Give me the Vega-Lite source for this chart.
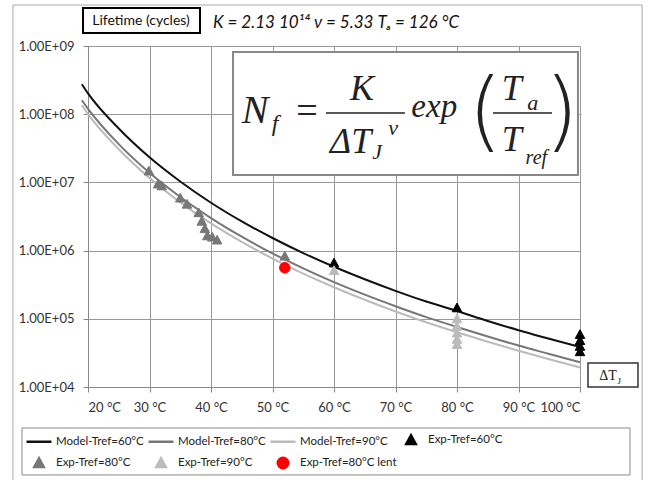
{
  "$schema": "https://vega.github.io/schema/vega-lite/v6.json",
  "width": 492,
  "height": 341,
  "autosize": {"type": "none"},
  "padding": {"left": 88, "top": 46, "right": 70, "bottom": 93},
  "background": "white",
  "config": {
    "view": {"stroke": null},
    "font": "Lato",
    "legend": {
      "orient": "none", "legendX": -63, "legendY": 380, "direction": "horizontal", "columns": 4,
      "symbolSize": 625, "symbolStrokeWidth": 2.5, "labelOffset": 3, "columnPadding": -1, "rowPadding": -2,
      "padding": 0, "labelFont": "Lato", "labelFontSize": 11.5, "labelColor": "#222", "labelLimit": 300
    }
  },
  "datasets": {
    "models": [
      {"series": "Model-Tref=60°C", "dt": 19, "nf": 275000000},
      {"series": "Model-Tref=60°C", "dt": 20, "nf": 202000000},
      {"series": "Model-Tref=60°C", "dt": 25, "nf": 61600000},
      {"series": "Model-Tref=60°C", "dt": 30, "nf": 23300000},
      {"series": "Model-Tref=60°C", "dt": 35, "nf": 10300000},
      {"series": "Model-Tref=60°C", "dt": 40, "nf": 5030000},
      {"series": "Model-Tref=60°C", "dt": 45, "nf": 2680000},
      {"series": "Model-Tref=60°C", "dt": 50, "nf": 1530000},
      {"series": "Model-Tref=60°C", "dt": 55, "nf": 920000},
      {"series": "Model-Tref=60°C", "dt": 60, "nf": 580000},
      {"series": "Model-Tref=60°C", "dt": 65, "nf": 380000},
      {"series": "Model-Tref=60°C", "dt": 70, "nf": 257000},
      {"series": "Model-Tref=60°C", "dt": 75, "nf": 179000},
      {"series": "Model-Tref=60°C", "dt": 80, "nf": 130000},
      {"series": "Model-Tref=60°C", "dt": 85, "nf": 93000},
      {"series": "Model-Tref=60°C", "dt": 90, "nf": 68000},
      {"series": "Model-Tref=60°C", "dt": 95, "nf": 51000},
      {"series": "Model-Tref=60°C", "dt": 100, "nf": 38500},
      {"series": "Model-Tref=80°C", "dt": 19, "nf": 160000000},
      {"series": "Model-Tref=80°C", "dt": 20, "nf": 120000000},
      {"series": "Model-Tref=80°C", "dt": 25, "nf": 36400000},
      {"series": "Model-Tref=80°C", "dt": 30, "nf": 13800000},
      {"series": "Model-Tref=80°C", "dt": 35, "nf": 6100000},
      {"series": "Model-Tref=80°C", "dt": 40, "nf": 3000000},
      {"series": "Model-Tref=80°C", "dt": 45, "nf": 1600000},
      {"series": "Model-Tref=80°C", "dt": 50, "nf": 910000},
      {"series": "Model-Tref=80°C", "dt": 55, "nf": 550000},
      {"series": "Model-Tref=80°C", "dt": 60, "nf": 345000},
      {"series": "Model-Tref=80°C", "dt": 65, "nf": 226000},
      {"series": "Model-Tref=80°C", "dt": 70, "nf": 153000},
      {"series": "Model-Tref=80°C", "dt": 75, "nf": 106000},
      {"series": "Model-Tref=80°C", "dt": 80, "nf": 76000},
      {"series": "Model-Tref=80°C", "dt": 85, "nf": 55000},
      {"series": "Model-Tref=80°C", "dt": 90, "nf": 40500},
      {"series": "Model-Tref=80°C", "dt": 95, "nf": 30500},
      {"series": "Model-Tref=80°C", "dt": 100, "nf": 23000},
      {"series": "Model-Tref=90°C", "dt": 19, "nf": 135000000},
      {"series": "Model-Tref=90°C", "dt": 20, "nf": 100000000},
      {"series": "Model-Tref=90°C", "dt": 25, "nf": 30600000},
      {"series": "Model-Tref=90°C", "dt": 30, "nf": 11600000},
      {"series": "Model-Tref=90°C", "dt": 35, "nf": 5100000},
      {"series": "Model-Tref=90°C", "dt": 40, "nf": 2500000},
      {"series": "Model-Tref=90°C", "dt": 45, "nf": 1340000},
      {"series": "Model-Tref=90°C", "dt": 50, "nf": 765000},
      {"series": "Model-Tref=90°C", "dt": 55, "nf": 460000},
      {"series": "Model-Tref=90°C", "dt": 60, "nf": 290000},
      {"series": "Model-Tref=90°C", "dt": 65, "nf": 190000},
      {"series": "Model-Tref=90°C", "dt": 70, "nf": 128000},
      {"series": "Model-Tref=90°C", "dt": 75, "nf": 89000},
      {"series": "Model-Tref=90°C", "dt": 80, "nf": 63500},
      {"series": "Model-Tref=90°C", "dt": 85, "nf": 46000},
      {"series": "Model-Tref=90°C", "dt": 90, "nf": 34000},
      {"series": "Model-Tref=90°C", "dt": 95, "nf": 25500},
      {"series": "Model-Tref=90°C", "dt": 100, "nf": 19300}
    ],
    "exp": [
      {"series": "Exp-Tref=60°C", "dt": 60, "nf": 660000},
      {"series": "Exp-Tref=60°C", "dt": 80, "nf": 145000},
      {"series": "Exp-Tref=60°C", "dt": 100, "nf": 59000},
      {"series": "Exp-Tref=60°C", "dt": 100, "nf": 48000},
      {"series": "Exp-Tref=60°C", "dt": 100, "nf": 39500},
      {"series": "Exp-Tref=60°C", "dt": 100, "nf": 33000},
      {"series": "Exp-Tref=80°C", "dt": 29.9, "nf": 14700000},
      {"series": "Exp-Tref=80°C", "dt": 31.4, "nf": 9500000},
      {"series": "Exp-Tref=80°C", "dt": 32, "nf": 8900000},
      {"series": "Exp-Tref=80°C", "dt": 35, "nf": 5900000},
      {"series": "Exp-Tref=80°C", "dt": 36.1, "nf": 4800000},
      {"series": "Exp-Tref=80°C", "dt": 38, "nf": 3600000},
      {"series": "Exp-Tref=80°C", "dt": 38.5, "nf": 2700000},
      {"series": "Exp-Tref=80°C", "dt": 39, "nf": 2100000},
      {"series": "Exp-Tref=80°C", "dt": 39.4, "nf": 1650000},
      {"series": "Exp-Tref=80°C", "dt": 40.2, "nf": 1580000},
      {"series": "Exp-Tref=80°C", "dt": 41, "nf": 1430000},
      {"series": "Exp-Tref=80°C", "dt": 52, "nf": 830000},
      {"series": "Exp-Tref=90°C", "dt": 60, "nf": 510000},
      {"series": "Exp-Tref=90°C", "dt": 80, "nf": 100000},
      {"series": "Exp-Tref=90°C", "dt": 80, "nf": 78000},
      {"series": "Exp-Tref=90°C", "dt": 80, "nf": 62000},
      {"series": "Exp-Tref=90°C", "dt": 80, "nf": 50000},
      {"series": "Exp-Tref=90°C", "dt": 80, "nf": 42000},
      {"series": "Exp-Tref=80°C lent", "dt": 52, "nf": 560000}
    ]
  },
  "layer": [
    {
      "data": {"values": [{}]},
      "mark": {"type": "rect", "fill": null, "stroke": "#aaaaaa", "strokeWidth": 1},
      "encoding": {
        "x": {"datum": 7.8, "type": "quantitative"}, "x2": {"datum": 110.1},
        "y": {"datum": 3990000000, "type": "quantitative"}, "y2": {"datum": 366}
      }
    },
    {
      "data": {"name": "models"},
      "mark": {"type": "line", "strokeWidth": 2, "interpolate": "monotone", "clip": false},
      "encoding": {
        "x": {"field": "dt", "type": "quantitative", "title": null,
          "scale": {"domain": [20, 100], "nice": false, "zero": false},
          "axis": {"values": [20, 30, 40, 50, 60, 70, 80, 90, 100], "labelExpr": "datum.value + ' °C'",
            "grid": true, "gridColor": "#999999", "gridOpacity": 1, "domainColor": "#888888", "tickColor": "#888888",
            "tickSize": 5, "labelPadding": 9, "labelFont": "Lato", "labelFontSize": 13, "labelColor": "#333333"}},
        "y": {"field": "nf", "type": "quantitative", "title": null,
          "scale": {"type": "log", "domain": [10000, 1000000000], "nice": false},
          "axis": {"values": [10000, 100000, 1000000, 10000000, 100000000, 1000000000],
            "labelExpr": "'1.00E+0' + round(log(datum.value) / LN10)",
            "grid": true, "gridColor": "#999999", "gridOpacity": 1, "domainColor": "#888888", "tickColor": "#888888",
            "tickSize": 5, "labelPadding": 9, "labelFont": "Lato", "labelFontSize": 13, "labelColor": "#333333"}},
        "color": {"field": "series", "type": "nominal", "title": null,
          "scale": {"domain": ["Model-Tref=60°C", "Model-Tref=80°C", "Model-Tref=90°C", "Exp-Tref=60°C", "Exp-Tref=80°C", "Exp-Tref=90°C", "Exp-Tref=80°C lent"],
            "range": ["#111111", "#777777", "#bbbbbb", "#000000", "#777777", "#bbbbbb", "#ff0000"]}},
        "detail": {"field": "series"}
      }
    },
    {
      "data": {"name": "exp"},
      "mark": {"type": "point", "filled": true, "opacity": 1, "size": 625, "strokeWidth": 1},
      "encoding": {
        "x": {"field": "dt", "type": "quantitative", "title": null},
        "y": {"field": "nf", "type": "quantitative", "title": null},
        "color": {"field": "series", "type": "nominal", "title": null},
        "stroke": {"field": "series", "type": "nominal", "title": null,
          "scale": {"domain": ["Model-Tref=60°C", "Model-Tref=80°C", "Model-Tref=90°C", "Exp-Tref=60°C", "Exp-Tref=80°C", "Exp-Tref=90°C", "Exp-Tref=80°C lent"],
            "range": ["#111111", "#777777", "#bbbbbb", "#000000", "#777777", "#bbbbbb", "#ff0000"]}},
        "shape": {"field": "series", "type": "nominal", "title": null,
          "scale": {"domain": ["Model-Tref=60°C", "Model-Tref=80°C", "Model-Tref=90°C", "Exp-Tref=60°C", "Exp-Tref=80°C", "Exp-Tref=90°C", "Exp-Tref=80°C lent"],
            "range": ["M-1,0H1", "M-1,0H1", "M-1,0H1",
              "M0,-0.38L0.38,0.32L-0.38,0.32Z", "M0,-0.38L0.38,0.32L-0.38,0.32Z", "M0,-0.38L0.38,0.32L-0.38,0.32Z",
              "M0.42,0A0.42,0.42,0,1,1,-0.42,0A0.42,0.42,0,1,1,0.42,0Z"]}}
      }
    },
    {
      "data": {"values": [{}]},
      "mark": {"type": "rect", "fill": null, "stroke": "#888888", "strokeWidth": 1},
      "encoding": {
        "x": {"datum": 9.27, "type": "quantitative"}, "x2": {"datum": 108.13},
        "y": {"datum": 2506, "type": "quantitative"}, "y2": {"datum": 513}
      }
    },
    {
      "data": {"values": [{}]},
      "mark": {"type": "rect", "fill": "white", "stroke": "#000000", "strokeWidth": 2},
      "encoding": {
        "x": {"datum": 19.19, "type": "quantitative"}, "x2": {"datum": 38.21},
        "y": {"datum": 3600000000, "type": "quantitative"}, "y2": {"datum": 1550000000}
      }
    },
    {
      "data": {"values": [{}]},
      "mark": {"type": "text", "text": "Lifetime (cycles)", "font": "Lato", "fontSize": 14, "align": "center", "baseline": "middle", "color": "#111111"},
      "encoding": {"x": {"datum": 28.62, "type": "quantitative"}, "y": {"datum": 2330000000, "type": "quantitative"}}
    },
    {
      "data": {"values": [{}]},
      "mark": {"type": "text", "text": "K = 2.13 10¹⁴ ν = 5.33 Tₐ = 126 °C", "font": "Lato", "fontStyle": "italic", "fontSize": 17, "align": "left", "baseline": "alphabetic", "color": "#111111"},
      "encoding": {"x": {"datum": 40.33, "type": "quantitative"}, "y": {"datum": 1840000000, "type": "quantitative"}}
    },
    {
      "data": {"values": [{}]},
      "mark": {"type": "rect", "fill": "white", "stroke": "#333333", "strokeWidth": 1.5},
      "encoding": {
        "x": {"datum": 101.3, "type": "quantitative"}, "x2": {"datum": 109.43},
        "y": {"datum": 22500, "type": "quantitative"}, "y2": {"datum": 10000}
      }
    },
    {
      "data": {"values": [{}]},
      "mark": {"type": "text", "text": "ΔT", "font": "Liberation Serif", "fontSize": 14, "align": "center", "baseline": "middle", "color": "#222222"},
      "encoding": {"x": {"datum": 104.55, "type": "quantitative"}, "y": {"datum": 14500, "type": "quantitative"}}
    },
    {
      "data": {"values": [{}]},
      "mark": {"type": "text", "text": "J", "font": "Liberation Serif", "fontSize": 9, "align": "center", "baseline": "middle", "color": "#222222"},
      "encoding": {"x": {"datum": 106.4, "type": "quantitative"}, "y": {"datum": 12200, "type": "quantitative"}}
    },
    {
      "data": {"values": [{}]},
      "mark": {"type": "rect", "fill": "white", "stroke": "#888888", "strokeWidth": 2},
      "encoding": {
        "x": {"datum": 43.58, "type": "quantitative"}, "x2": {"datum": 99.67},
        "y": {"datum": 817000000, "type": "quantitative"}, "y2": {"datum": 12850000}
      }
    },
    {
      "data": {"values": [{}]},
      "mark": {"type": "rule", "stroke": "#222222", "strokeWidth": 1.5},
      "encoding": {"x": {"datum": 58.7, "type": "quantitative"}, "x2": {"datum": 71.54}, "y": {"datum": 104200000, "type": "quantitative"}}
    },
    {
      "data": {"values": [{}]},
      "mark": {"type": "rule", "stroke": "#222222", "strokeWidth": 1.5},
      "encoding": {"x": {"datum": 85.85, "type": "quantitative"}, "x2": {"datum": 95.45}, "y": {"datum": 104200000, "type": "quantitative"}}
    },
    {
      "data": {"values": [{}]},
      "mark": {"type": "text", "text": "N", "font": "Liberation Serif", "fontStyle": "italic", "fontSize": 40, "align": "center", "baseline": "middle", "color": "#222222"},
      "encoding": {"x": {"datum": 47.15, "type": "quantitative"}, "y": {"datum": 111000000, "type": "quantitative"}}
    },
    {
      "data": {"values": [{}]},
      "mark": {"type": "text", "text": "f", "font": "Liberation Serif", "fontStyle": "italic", "fontSize": 24, "align": "center", "baseline": "middle", "color": "#222222"},
      "encoding": {"x": {"datum": 50.4, "type": "quantitative"}, "y": {"datum": 72000000, "type": "quantitative"}}
    },
    {
      "data": {"values": [{}]},
      "mark": {"type": "text", "text": "=", "font": "Liberation Serif", "fontSize": 38, "align": "center", "baseline": "middle", "color": "#222222"},
      "encoding": {"x": {"datum": 55.6, "type": "quantitative"}, "y": {"datum": 108000000, "type": "quantitative"}}
    },
    {
      "data": {"values": [{}]},
      "mark": {"type": "text", "text": "K", "font": "Liberation Serif", "fontStyle": "italic", "fontSize": 36, "align": "center", "baseline": "middle", "color": "#222222"},
      "encoding": {"x": {"datum": 64.55, "type": "quantitative"}, "y": {"datum": 234000000, "type": "quantitative"}}
    },
    {
      "data": {"values": [{}]},
      "mark": {"type": "text", "text": "ΔT", "font": "Liberation Serif", "fontStyle": "italic", "fontSize": 36, "align": "center", "baseline": "middle", "color": "#222222"},
      "encoding": {"x": {"datum": 62.7, "type": "quantitative"}, "y": {"datum": 39100000, "type": "quantitative"}}
    },
    {
      "data": {"values": [{}]},
      "mark": {"type": "text", "text": "J", "font": "Liberation Serif", "fontStyle": "italic", "fontSize": 22, "align": "center", "baseline": "middle", "color": "#222222"},
      "encoding": {"x": {"datum": 67.0, "type": "quantitative"}, "y": {"datum": 27900000, "type": "quantitative"}}
    },
    {
      "data": {"values": [{}]},
      "mark": {"type": "text", "text": "v", "font": "Liberation Serif", "fontStyle": "italic", "fontSize": 22, "align": "center", "baseline": "middle", "color": "#222222"},
      "encoding": {"x": {"datum": 69.6, "type": "quantitative"}, "y": {"datum": 62800000, "type": "quantitative"}}
    },
    {
      "data": {"values": [{}]},
      "mark": {"type": "text", "text": "exp", "font": "Liberation Serif", "fontStyle": "italic", "fontSize": 33, "align": "center", "baseline": "alphabetic", "color": "#222222"},
      "encoding": {"x": {"datum": 76.3, "type": "quantitative"}, "y": {"datum": 91000000, "type": "quantitative"}}
    },
    {
      "data": {"values": [{}]},
      "mark": {"type": "text", "text": "(", "font": "DejaVu Sans", "fontWeight": 200, "fontSize": 88, "align": "center", "baseline": "middle", "color": "#222222"},
      "encoding": {"x": {"datum": 84.6, "type": "quantitative"}, "y": {"datum": 100700000, "type": "quantitative"}}
    },
    {
      "data": {"values": [{}]},
      "mark": {"type": "text", "text": ")", "font": "DejaVu Sans", "fontWeight": 200, "fontSize": 88, "align": "center", "baseline": "middle", "color": "#222222"},
      "encoding": {"x": {"datum": 97.0, "type": "quantitative"}, "y": {"datum": 100700000, "type": "quantitative"}}
    },
    {
      "data": {"values": [{}]},
      "mark": {"type": "text", "text": "T", "font": "Liberation Serif", "fontStyle": "italic", "fontSize": 36, "align": "center", "baseline": "middle", "color": "#222222"},
      "encoding": {"x": {"datum": 88.9, "type": "quantitative"}, "y": {"datum": 234000000, "type": "quantitative"}}
    },
    {
      "data": {"values": [{}]},
      "mark": {"type": "text", "text": "a", "font": "Liberation Serif", "fontStyle": "italic", "fontSize": 22, "align": "center", "baseline": "middle", "color": "#222222"},
      "encoding": {"x": {"datum": 92.3, "type": "quantitative"}, "y": {"datum": 146000000, "type": "quantitative"}}
    },
    {
      "data": {"values": [{}]},
      "mark": {"type": "text", "text": "T", "font": "Liberation Serif", "fontStyle": "italic", "fontSize": 36, "align": "center", "baseline": "middle", "color": "#222222"},
      "encoding": {"x": {"datum": 88.9, "type": "quantitative"}, "y": {"datum": 41900000, "type": "quantitative"}}
    },
    {
      "data": {"values": [{}]},
      "mark": {"type": "text", "text": "ref", "font": "Liberation Serif", "fontStyle": "italic", "fontSize": 20, "align": "center", "baseline": "middle", "color": "#222222"},
      "encoding": {"x": {"datum": 92.9, "type": "quantitative"}, "y": {"datum": 22500000, "type": "quantitative"}}
    }
  ]
}
